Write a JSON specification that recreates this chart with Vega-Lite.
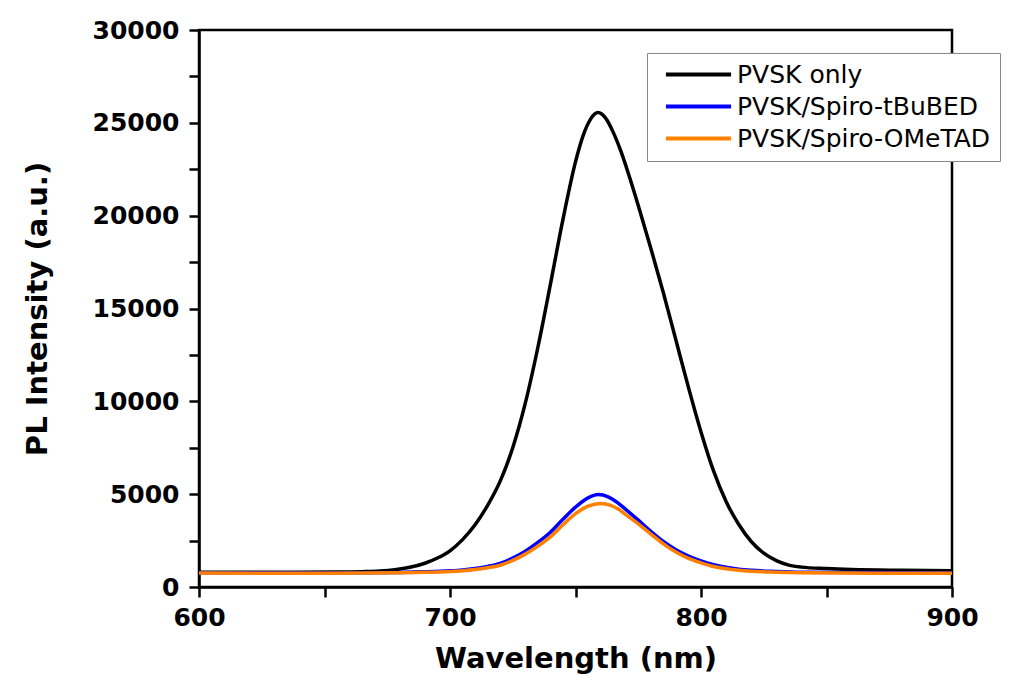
{
  "$schema": "https://vega.github.io/schema/vega-lite/v6.json",
  "autosize": "none",
  "width": 753,
  "height": 557,
  "padding": {"left": 199, "top": 30, "right": 59, "bottom": 111},
  "background": "white",
  "config": {
    "view": {"stroke": "black", "strokeWidth": 2.5},
    "axis": {"grid": false, "domainColor": "black", "domainWidth": 2.5, "tickColor": "black", "tickWidth": 2.5, "tickSize": 10,
             "labelFont": "DejaVu Sans", "labelFontWeight": "bold", "labelFontSize": 25, "labelColor": "black",
             "titleFont": "DejaVu Sans", "titleFontWeight": "bold", "titleFontSize": 29, "titleColor": "black"}
  },
  "data": {"values": [
    {"w":600,"i":800,"s":"PVSK only"},{"w":620,"i":800,"s":"PVSK only"},{"w":640,"i":800,"s":"PVSK only"},{"w":655,"i":805,"s":"PVSK only"},{"w":665,"i":825,"s":"PVSK only"},{"w":672,"i":860,"s":"PVSK only"},{"w":678,"i":930,"s":"PVSK only"},{"w":684,"i":1060,"s":"PVSK only"},{"w":690,"i":1280,"s":"PVSK only"},{"w":695,"i":1560,"s":"PVSK only"},{"w":700,"i":1950,"s":"PVSK only"},{"w":705,"i":2550,"s":"PVSK only"},{"w":710,"i":3350,"s":"PVSK only"},{"w":715,"i":4400,"s":"PVSK only"},{"w":720,"i":5700,"s":"PVSK only"},{"w":725,"i":7500,"s":"PVSK only"},{"w":730,"i":9900,"s":"PVSK only"},{"w":735,"i":12900,"s":"PVSK only"},{"w":740,"i":16300,"s":"PVSK only"},{"w":745,"i":19800,"s":"PVSK only"},{"w":750,"i":22900,"s":"PVSK only"},{"w":753,"i":24300,"s":"PVSK only"},{"w":756,"i":25200,"s":"PVSK only"},{"w":759,"i":25550,"s":"PVSK only"},{"w":762,"i":25250,"s":"PVSK only"},{"w":765,"i":24500,"s":"PVSK only"},{"w":768,"i":23500,"s":"PVSK only"},{"w":771,"i":22300,"s":"PVSK only"},{"w":775,"i":20550,"s":"PVSK only"},{"w":780,"i":18250,"s":"PVSK only"},{"w":785,"i":15850,"s":"PVSK only"},{"w":790,"i":13300,"s":"PVSK only"},{"w":795,"i":10750,"s":"PVSK only"},{"w":800,"i":8350,"s":"PVSK only"},{"w":805,"i":6250,"s":"PVSK only"},{"w":810,"i":4600,"s":"PVSK only"},{"w":815,"i":3380,"s":"PVSK only"},{"w":820,"i":2450,"s":"PVSK only"},{"w":825,"i":1820,"s":"PVSK only"},{"w":830,"i":1420,"s":"PVSK only"},{"w":835,"i":1180,"s":"PVSK only"},{"w":840,"i":1070,"s":"PVSK only"},{"w":850,"i":990,"s":"PVSK only"},{"w":860,"i":940,"s":"PVSK only"},{"w":880,"i":900,"s":"PVSK only"},{"w":900,"i":880,"s":"PVSK only"},
    {"w":600,"i":770,"s":"PVSK/Spiro-tBuBED"},{"w":650,"i":760,"s":"PVSK/Spiro-tBuBED"},{"w":680,"i":785,"s":"PVSK/Spiro-tBuBED"},{"w":690,"i":815,"s":"PVSK/Spiro-tBuBED"},{"w":700,"i":870,"s":"PVSK/Spiro-tBuBED"},{"w":705,"i":920,"s":"PVSK/Spiro-tBuBED"},{"w":710,"i":1000,"s":"PVSK/Spiro-tBuBED"},{"w":715,"i":1110,"s":"PVSK/Spiro-tBuBED"},{"w":720,"i":1270,"s":"PVSK/Spiro-tBuBED"},{"w":725,"i":1560,"s":"PVSK/Spiro-tBuBED"},{"w":730,"i":1930,"s":"PVSK/Spiro-tBuBED"},{"w":735,"i":2400,"s":"PVSK/Spiro-tBuBED"},{"w":740,"i":2950,"s":"PVSK/Spiro-tBuBED"},{"w":745,"i":3650,"s":"PVSK/Spiro-tBuBED"},{"w":750,"i":4300,"s":"PVSK/Spiro-tBuBED"},{"w":755,"i":4800,"s":"PVSK/Spiro-tBuBED"},{"w":759,"i":4980,"s":"PVSK/Spiro-tBuBED"},{"w":763,"i":4860,"s":"PVSK/Spiro-tBuBED"},{"w":767,"i":4520,"s":"PVSK/Spiro-tBuBED"},{"w":770,"i":4180,"s":"PVSK/Spiro-tBuBED"},{"w":775,"i":3600,"s":"PVSK/Spiro-tBuBED"},{"w":780,"i":3000,"s":"PVSK/Spiro-tBuBED"},{"w":785,"i":2450,"s":"PVSK/Spiro-tBuBED"},{"w":790,"i":2000,"s":"PVSK/Spiro-tBuBED"},{"w":795,"i":1660,"s":"PVSK/Spiro-tBuBED"},{"w":800,"i":1400,"s":"PVSK/Spiro-tBuBED"},{"w":805,"i":1200,"s":"PVSK/Spiro-tBuBED"},{"w":810,"i":1060,"s":"PVSK/Spiro-tBuBED"},{"w":815,"i":960,"s":"PVSK/Spiro-tBuBED"},{"w":820,"i":900,"s":"PVSK/Spiro-tBuBED"},{"w":830,"i":840,"s":"PVSK/Spiro-tBuBED"},{"w":840,"i":800,"s":"PVSK/Spiro-tBuBED"},{"w":860,"i":780,"s":"PVSK/Spiro-tBuBED"},{"w":880,"i":770,"s":"PVSK/Spiro-tBuBED"},{"w":900,"i":760,"s":"PVSK/Spiro-tBuBED"},
    {"w":600,"i":750,"s":"PVSK/Spiro-OMeTAD"},{"w":650,"i":740,"s":"PVSK/Spiro-OMeTAD"},{"w":680,"i":765,"s":"PVSK/Spiro-OMeTAD"},{"w":690,"i":790,"s":"PVSK/Spiro-OMeTAD"},{"w":700,"i":835,"s":"PVSK/Spiro-OMeTAD"},{"w":705,"i":875,"s":"PVSK/Spiro-OMeTAD"},{"w":710,"i":940,"s":"PVSK/Spiro-OMeTAD"},{"w":715,"i":1040,"s":"PVSK/Spiro-OMeTAD"},{"w":720,"i":1170,"s":"PVSK/Spiro-OMeTAD"},{"w":725,"i":1430,"s":"PVSK/Spiro-OMeTAD"},{"w":730,"i":1770,"s":"PVSK/Spiro-OMeTAD"},{"w":735,"i":2200,"s":"PVSK/Spiro-OMeTAD"},{"w":740,"i":2700,"s":"PVSK/Spiro-OMeTAD"},{"w":745,"i":3350,"s":"PVSK/Spiro-OMeTAD"},{"w":750,"i":3950,"s":"PVSK/Spiro-OMeTAD"},{"w":755,"i":4350,"s":"PVSK/Spiro-OMeTAD"},{"w":760,"i":4500,"s":"PVSK/Spiro-OMeTAD"},{"w":764,"i":4400,"s":"PVSK/Spiro-OMeTAD"},{"w":767,"i":4200,"s":"PVSK/Spiro-OMeTAD"},{"w":770,"i":3900,"s":"PVSK/Spiro-OMeTAD"},{"w":775,"i":3400,"s":"PVSK/Spiro-OMeTAD"},{"w":780,"i":2850,"s":"PVSK/Spiro-OMeTAD"},{"w":785,"i":2320,"s":"PVSK/Spiro-OMeTAD"},{"w":790,"i":1880,"s":"PVSK/Spiro-OMeTAD"},{"w":795,"i":1540,"s":"PVSK/Spiro-OMeTAD"},{"w":800,"i":1300,"s":"PVSK/Spiro-OMeTAD"},{"w":805,"i":1100,"s":"PVSK/Spiro-OMeTAD"},{"w":810,"i":980,"s":"PVSK/Spiro-OMeTAD"},{"w":815,"i":900,"s":"PVSK/Spiro-OMeTAD"},{"w":820,"i":850,"s":"PVSK/Spiro-OMeTAD"},{"w":830,"i":800,"s":"PVSK/Spiro-OMeTAD"},{"w":840,"i":770,"s":"PVSK/Spiro-OMeTAD"},{"w":860,"i":750,"s":"PVSK/Spiro-OMeTAD"},{"w":880,"i":740,"s":"PVSK/Spiro-OMeTAD"},{"w":900,"i":740,"s":"PVSK/Spiro-OMeTAD"}
  ]},
  "mark": {"type": "line", "interpolate": "monotone", "strokeWidth": 3.5},
  "encoding": {
    "x": {"field": "w", "type": "quantitative", "scale": {"domain": [600, 900], "nice": false},
          "axis": {"title": "Wavelength (nm)", "values": [600,650,700,750,800,850,900],
                   "labelExpr": "datum.value % 100 === 0 ? datum.label : ''",
                   "labelPadding": 8, "titlePadding": 14, "labelFlush": false}},
    "y": {"field": "i", "type": "quantitative", "scale": {"domain": [0, 30000], "nice": false},
          "axis": {"title": "PL Intensity (a.u.)", "format": "d", "values": [0,2500,5000,7500,10000,12500,15000,17500,20000,22500,25000,27500,30000],
                   "labelExpr": "datum.value % 5000 === 0 ? datum.label : ''",
                   "labelPadding": 10, "titlePadding": 40, "labelFlush": false}},
    "color": {"field": "s", "type": "nominal",
              "scale": {"domain": ["PVSK only", "PVSK/Spiro-tBuBED", "PVSK/Spiro-OMeTAD"], "range": ["#000000", "#0000FF", "#FF8000"]},
              "legend": {"title": null, "orient": "none", "legendX": 448, "legendY": 23,
                         "symbolType": "M-3.1,0H3.1", "symbolSize": 441, "symbolStrokeWidth": 4, "symbolOffset": 30,
                         "labelFont": "DejaVu Sans", "labelFontSize": 25, "labelColor": "black", "labelLimit": 400,
                         "strokeColor": "#888888", "padding": 9, "fillColor": "white", "labelOffset": 26, "rowPadding": 6}}
  }
}
